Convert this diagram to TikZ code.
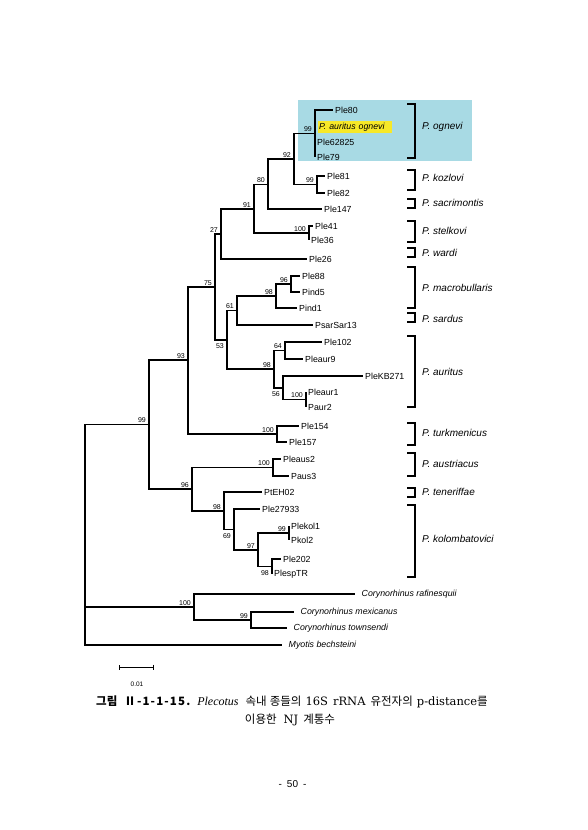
\documentclass[tikz,border=0pt]{standalone}
\usepackage{fontspec}
\setmainfont{Liberation Sans}
\newfontfamily\krfont{Noto Sans CJK KR}
\newfontfamily\krwide[LetterSpace=10]{Noto Sans CJK KR}
\newfontfamily\serfont{DejaVu Serif}
\newfontfamily\seritfont{Liberation Serif}
\usepackage{tikz}
\usetikzlibrary{arrows.meta}
\definecolor{boxblue}{RGB}{168,218,228}
\definecolor{hlyellow}{RGB}{247,232,40}

\begin{document}
\begin{tikzpicture}[x=1pt, y=-1pt,
    branch/.style={line width=1.1pt},
    leaf/.style={anchor=west, inner xsep=2pt, inner ysep=1pt, font=\fontsize{8.8}{10}\selectfont},
    outleaf/.style={leaf, inner xsep=6.5pt, font=\fontsize{8.8}{10}\selectfont\itshape},
    bs/.style={anchor=south east, inner xsep=3pt, inner ysep=1.5pt, font=\fontsize{7}{8}\selectfont},
    bsb/.style={bs, anchor=north east, inner ysep=3.5pt},
    clade/.style={line width=2.6pt},
    taxon/.style={anchor=west, inner sep=0pt, font=\fontsize{10}{12}\selectfont\itshape},
]
\useasboundingbox (0,0) rectangle (587,830);
\fill[white] (0,0) rectangle (587,830);

% highlighted clade
\fill[boxblue] (298,100) rectangle (472,161);

% leaves
\node[leaf] (ple80) at (333,110) {Ple80};
\node[leaf, fill=hlyellow, inner xsep=1.5pt, minimum height=12pt, text width=71pt, align=left, font=\fontsize{8.8}{10}\selectfont\itshape] (ognevi) at (317.5,127) {P. auritus ognevi};
\node[leaf] (ple62825) at (315,142) {Ple62825};
\node[leaf] (ple79) at (315,157) {Ple79};
\node[leaf] (ple81) at (325,176) {Ple81};
\node[leaf] (ple82) at (325,193) {Ple82};
\node[leaf] (ple147) at (322,209) {Ple147};
\node[leaf] (ple41) at (313,226) {Ple41};
\node[leaf] (ple36) at (309,240) {Ple36};
\node[leaf] (ple26) at (307,259) {Ple26};
\node[leaf] (ple88) at (300,276) {Ple88};
\node[leaf] (pind5) at (300,292) {Pind5};
\node[leaf] (pind1) at (297,308) {Pind1};
\node[leaf] (psar) at (313,325) {PsarSar13};
\node[leaf] (ple102) at (322,342) {Ple102};
\node[leaf] (pleaur9) at (303,359) {Pleaur9};
\node[leaf] (plekb) at (363,376) {PleKB271};
\node[leaf] (pleaur1) at (306,392) {Pleaur1};
\node[leaf] (paur2) at (306,407) {Paur2};
\node[leaf] (ple154) at (299,426) {Ple154};
\node[leaf] (ple157) at (287,442) {Ple157};
\node[leaf] (pleaus2) at (281,459) {Pleaus2};
\node[leaf] (paus3) at (289,476) {Paus3};
\node[leaf] (pteh) at (262,492) {PtEH02};
\node[leaf] (ple27933) at (260,509) {Ple27933};
\node[leaf] (plekol1) at (289,526) {Plekol1};
\node[leaf] (pkol2) at (289,540) {Pkol2};
\node[leaf] (ple202) at (281,559) {Ple202};
\node[leaf] (plesptr) at (272,574) {PlespTR};
\node[outleaf] (craf) at (355,594) {Corynorhinus rafinesquii};
\node[outleaf] (cmex) at (294,612) {Corynorhinus mexicanus};
\node[outleaf] (ctow) at (287,628) {Corynorhinus townsendi};
\node[outleaf] (mbech) at (282,645) {Myotis bechsteini};

% internal nodes
\coordinate (n99og) at (315,133.5);
\coordinate (n99koz) at (317,184.5);
\coordinate (n92) at (294,159);
\coordinate (n80) at (268,184.5);
\coordinate (n100st) at (309,233);
\coordinate (n91) at (254,209);
\coordinate (n27) at (221,234);
\coordinate (n96mac) at (291,284);
\coordinate (n98mac) at (276,296);
\coordinate (n61) at (237,310.5);
\coordinate (n64) at (285,350.5);
\coordinate (n100aur) at (306,399.5);
\coordinate (n56) at (283,388);
\coordinate (n98aur) at (274,369);
\coordinate (n53) at (227,340);
\coordinate (n75) at (215,287);
\coordinate (n100tu) at (277,434);
\coordinate (n93) at (188,360);
\coordinate (n100au) at (273,467.5);
\coordinate (n99pk) at (289,533);
\coordinate (n98pt) at (272,566.5);
\coordinate (n97) at (258,550);
\coordinate (n69) at (234,529.5);
\coordinate (n98te) at (224,511);
\coordinate (n96) at (192,489);
\coordinate (n99pl) at (149,424.5);
\coordinate (n99co) at (251,620);
\coordinate (n100co) at (194,607);
\coordinate (nroot) at (85,535);

% branches
\draw[branch] (n99og) |- (ple80.west) (n99og) |- (ple62825.west) (n99og) |- (ple79.west);
\draw[branch] (n99koz) |- (ple81.west) (n99koz) |- (ple82.west);
\draw[branch] (n92) |- (n99og) (n92) |- (n99koz);
\draw[branch] (n80) |- (n92) (n80) |- (ple147.west);
\draw[branch] (n100st) |- (ple41.west) (n100st) |- (ple36.west);
\draw[branch] (n91) |- (n80) (n91) |- (n100st);
\draw[branch] (n27) |- (n91) (n27) |- (ple26.west);
\draw[branch] (n96mac) |- (ple88.west) (n96mac) |- (pind5.west);
\draw[branch] (n98mac) |- (n96mac) (n98mac) |- (pind1.west);
\draw[branch] (n61) |- (n98mac) (n61) |- (psar.west);
\draw[branch] (n64) |- (ple102.west) (n64) |- (pleaur9.west);
\draw[branch] (n100aur) |- (pleaur1.west) (n100aur) |- (paur2.west);
\draw[branch] (n56) |- (plekb.west) (n56) |- (n100aur);
\draw[branch] (n98aur) |- (n64) (n98aur) |- (n56);
\draw[branch] (n53) |- (n61) (n53) |- (n98aur);
\draw[branch] (n75) |- (n27) (n75) |- (n53);
\draw[branch] (n100tu) |- (ple154.west) (n100tu) |- (ple157.west);
\draw[branch] (n93) |- (n75) (n93) |- (n100tu);
\draw[branch] (n100au) |- (pleaus2.west) (n100au) |- (paus3.west);
\draw[branch] (n99pk) |- (plekol1.west) (n99pk) |- (pkol2.west);
\draw[branch] (n98pt) |- (ple202.west) (n98pt) |- (plesptr.west);
\draw[branch] (n97) |- (n99pk) (n97) |- (n98pt);
\draw[branch] (n69) |- (ple27933.west) (n69) |- (n97);
\draw[branch] (n98te) |- (pteh.west) (n98te) |- (n69);
\draw[branch] (n96) |- (n100au) (n96) |- (n98te);
\draw[branch] (n99pl) |- (n93) (n99pl) |- (n96);
\draw[branch] (n99co) |- (cmex.west) (n99co) |- (ctow.west);
\draw[branch] (n100co) |- (craf.west) (n100co) |- (n99co);
\draw[branch] (nroot) |- (n99pl) (nroot) |- (n100co) (nroot) |- (mbech.west);

% bootstrap values
\node[bs] (b99og) at (n99og) {99};
\node[bs] (b99koz) at (n99koz) {99};
\node[bs] (b92) at (n92) {92};
\node[bs] (b80) at (n80) {80};
\node[bs] (b100st) at (n100st) {100};
\node[bs] (b91) at (n91) {91};
\node[bs] (b27) at (n27) {27};
\node[bs] (b96mac) at (n96mac) {96};
\node[bs] (b98mac) at (n98mac) {98};
\node[bs] (b61) at (n61) {61};
\node[bs] (b64) at (n64) {64};
\node[bs] (b100aur) at (n100aur) {100};
\node[bsb] (b56) at (n56) {56};
\node[bs] (b98aur) at (n98aur) {98};
\node[bsb] (b53) at (n53) {53};
\node[bs] (b75) at (n75) {75};
\node[bs] (b100tu) at (n100tu) {100};
\node[bs] (b93) at (n93) {93};
\node[bs] (b100au) at (n100au) {100};
\node[bs] (b99pk) at (n99pk) {99};
\node[bsb] (b98pt) at (n98pt) {98};
\node[bs] (b97) at (n97) {97};
\node[bsb] (b69) at (n69) {69};
\node[bs] (b98te) at (n98te) {98};
\node[bs] (b96) at (n96) {96};
\node[bs] (b99pl) at (n99pl) {99};
\node[bs] (b100co) at (n100co) {100};
\node[bs] (b99co) at (n99co) {99};

% species brackets
\foreach \t/\b/\m/\sp in {104/158/127/ognevi, 170/190/178/kozlovi, 199/208/203/sacrimontis,
    221/242/231/stelkovi, 248/257/253/wardi, 267/308/288/macrobullaris, 313/322/319/sardus,
    336/407/372/auritus, 423/445/433/turkmenicus, 453/476/464/austriacus,
    488/497/492/teneriffae, 505/577/539/kolombatovici}{
  \draw[clade] (407,\t) -- (415,\t) -- (415,\b) -- (407,\b);
  \node[taxon] (sp-\sp) at (422,\m) {P. \sp};
}

% scale bar
\coordinate (sbl) at (119,667);
\coordinate (sbr) at (154,667);
\draw[{Bar[width=5pt]}-{Bar[width=5pt]}, line width=0.6pt] (sbl) -- (sbr);
\node[font=\fontsize{6.5}{8}\selectfont] (sblab) at (137,684) {0.01};

% caption
\node[font=\fontsize{11.5}{13}\selectfont, anchor=west, inner sep=0pt] (cap1) at (96,702) {{\krfont\bfseries 그림}\hspace{7pt}{\krwide\bfseries Ⅱ-1-1-15.}\hspace{7pt}{\seritfont\itshape\fontsize{12}{14}\selectfont Plecotus}\hspace{7pt}{\krfont 속내\hspace{3pt}종들의}\hspace{4pt}{\serfont 16S\hspace{5pt}rRNA}\hspace{5pt}{\krfont 유전자의}\hspace{4pt}{\serfont p-distance}{\krfont 를}};
\node[font=\fontsize{11.5}{13}\selectfont] (cap2) at (290,720) {{\krfont 이용한}\hspace{7pt}{\serfont NJ}\hspace{5pt}{\krfont 계통수}};
\node[font=\fontsize{10}{12}\selectfont] (pgno) at (292.5,784) {-\hspace{5pt}50\hspace{5pt}-};
\end{tikzpicture}
\end{document}
